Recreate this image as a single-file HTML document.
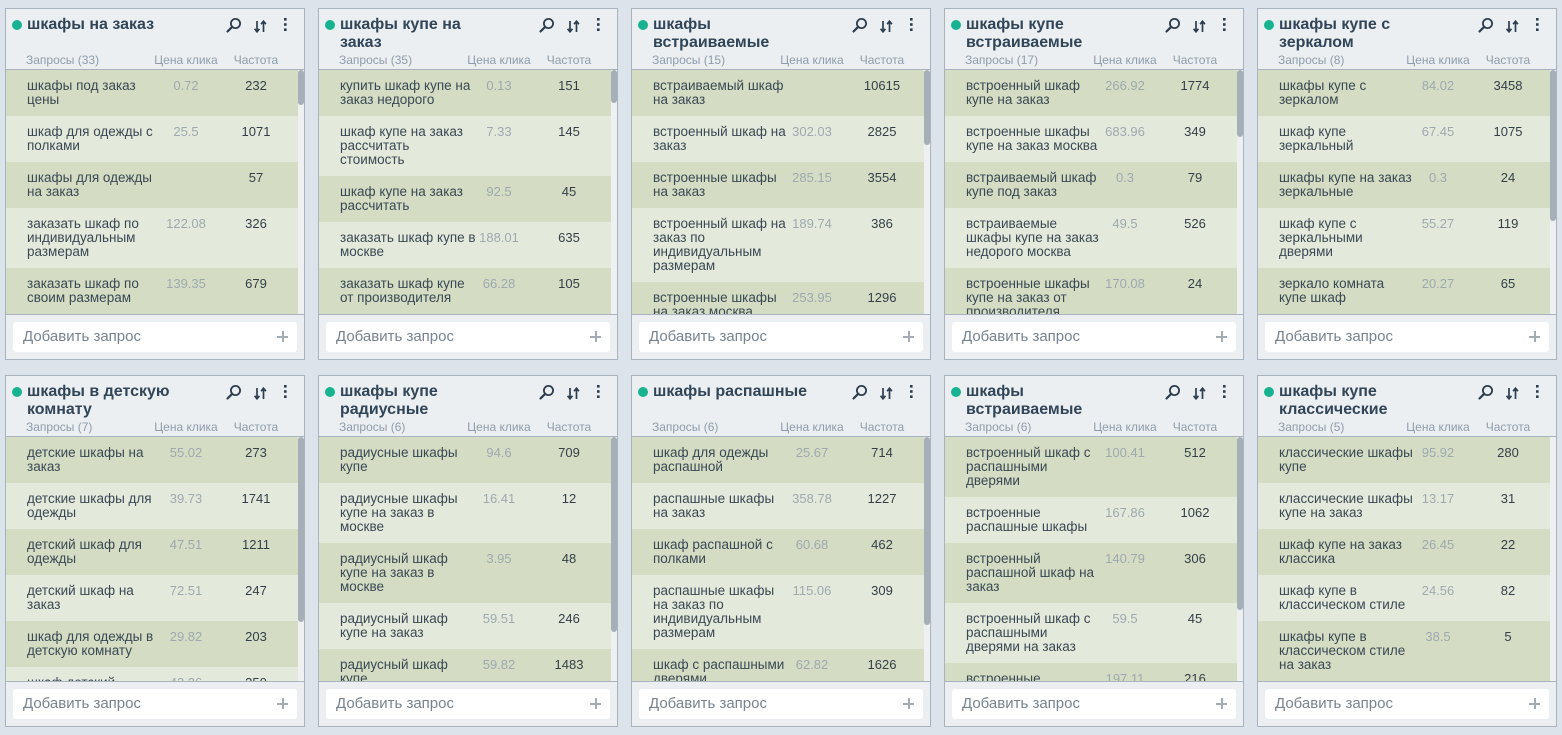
<!DOCTYPE html>
<html>
<head>
<meta charset="utf-8">
<style>
  html,body{margin:0;padding:0;}
  body{width:1562px;height:735px;background:#dde3eb;position:relative;overflow:hidden;
       font-family:"Liberation Sans","Noto Sans CJK SC",sans-serif;}
  .card{position:absolute;width:300px;height:352px;box-sizing:border-box;border:1px solid #a9b3bd;background:#ebeff1;}
  .hd{position:relative;height:60px;border-bottom:1px solid #a9b3bd;}
  .dot{position:absolute;left:6px;top:11px;width:10px;height:10px;border-radius:50%;background:#17b28f;}
  .ttl{position:absolute;left:21px;top:7px;font-size:16px;line-height:18px;font-weight:bold;color:#314558;white-space:nowrap;}
  .ic{position:absolute;left:214px;top:6px;}
  .sub{position:absolute;left:0;top:44px;width:298px;height:14px;font-size:12px;line-height:14px;color:#8f9cab;white-space:nowrap;}
  .sub .c1{position:absolute;left:20px;}
  .sub .c2{position:absolute;left:135px;width:90px;text-align:center;}
  .sub .c3{position:absolute;left:210px;width:80px;text-align:center;}
  .body{position:relative;height:244px;overflow:hidden;}
  .rows{position:absolute;left:0;top:0;width:292px;height:244px;overflow:hidden;}
  .r{position:relative;padding:9px 0;font-size:13px;line-height:14px;background:#d4ddc3;color:#3b4754;}
  .r:nth-child(even){background:#e4eadb;}
  .q{padding-left:21px;white-space:nowrap;font-size:13.5px;}
  .p{position:absolute;left:140px;top:9px;width:80px;text-align:center;color:#9ea8b0;}
  .f{position:absolute;left:210px;top:9px;width:80px;text-align:center;color:#343e49;}
  .sb{position:absolute;right:0;top:0;width:6px;height:244px;background:#eef0f2;}
  .th{position:absolute;left:0;top:0;width:6px;border-radius:3px;background:#a6afb8;}
  .ft{position:relative;height:44px;border-top:1px solid #a9b3bd;}
  .in{position:absolute;left:7px;top:7px;width:284px;height:30px;background:#fff;border-radius:3px;
      font-size:15px;line-height:30px;color:#77838e;box-sizing:border-box;padding-left:10px;}
  .pl{position:absolute;right:9px;top:9px;width:11px;height:11px;}
  .pl:before{content:"";position:absolute;left:0;top:4.5px;width:11px;height:2px;background:#a3acb5;}
  .pl:after{content:"";position:absolute;left:4.5px;top:0;width:2px;height:11px;background:#a3acb5;}
</style>
</head>
<body>

<!-- Card 1 -->
<div class="card" style="left:5px;top:8px">
  <div class="hd">
    <span class="dot"></span>
    <div class="ttl">шкафы на заказ</div>
    <svg class="ic" width="80" height="20" viewBox="0 0 80 20"><circle cx="15.5" cy="8.5" r="4.6" fill="none" stroke="#2c3d4f" stroke-width="1.8"/><line x1="12.2" y1="11.8" x2="7.5" y2="16.5" stroke="#2c3d4f" stroke-width="2.2" stroke-linecap="round"/><g stroke="#2c3d4f" stroke-width="1.7" fill="none"><line x1="37" y1="6" x2="37" y2="16.5"/><polyline points="34.6,13.8 37,16.8 39.4,13.8"/><line x1="43.5" y1="7" x2="43.5" y2="17"/><polyline points="41.1,9.2 43.5,6.2 45.9,9.2"/></g><rect x="64" y="3" width="2.6" height="2.6" fill="#2c3d4f"/><rect x="64" y="8.2" width="2.6" height="2.6" fill="#2c3d4f"/><rect x="64" y="13.4" width="2.6" height="2.6" fill="#2c3d4f"/></svg>
    <div class="sub"><span class="c1">Запросы (33)</span><span class="c2">Цена клика</span><span class="c3">Частота</span></div>
  </div>
  <div class="body">
    <div class="rows">
      <div class="r"><div class="q">шкафы под заказ<br>цены</div><div class="p">0.72</div><div class="f">232</div></div>
      <div class="r"><div class="q">шкаф для одежды с<br>полками</div><div class="p">25.5</div><div class="f">1071</div></div>
      <div class="r"><div class="q">шкафы для одежды<br>на заказ</div><div class="p"></div><div class="f">57</div></div>
      <div class="r"><div class="q">заказать шкаф по<br>индивидуальным<br>размерам</div><div class="p">122.08</div><div class="f">326</div></div>
      <div class="r"><div class="q">заказать шкаф по<br>своим размерам</div><div class="p">139.35</div><div class="f">679</div></div>
    </div>
    <div class="sb"><div class="th" style="height:35px"></div></div>
  </div>
  <div class="ft"><div class="in">Добавить запрос<span class="pl"></span></div></div>
</div>

<!-- Card 2 -->
<div class="card" style="left:318px;top:8px">
  <div class="hd">
    <span class="dot"></span>
    <div class="ttl">шкафы купе на<br>заказ</div>
    <svg class="ic" width="80" height="20" viewBox="0 0 80 20"><circle cx="15.5" cy="8.5" r="4.6" fill="none" stroke="#2c3d4f" stroke-width="1.8"/><line x1="12.2" y1="11.8" x2="7.5" y2="16.5" stroke="#2c3d4f" stroke-width="2.2" stroke-linecap="round"/><g stroke="#2c3d4f" stroke-width="1.7" fill="none"><line x1="37" y1="6" x2="37" y2="16.5"/><polyline points="34.6,13.8 37,16.8 39.4,13.8"/><line x1="43.5" y1="7" x2="43.5" y2="17"/><polyline points="41.1,9.2 43.5,6.2 45.9,9.2"/></g><rect x="64" y="3" width="2.6" height="2.6" fill="#2c3d4f"/><rect x="64" y="8.2" width="2.6" height="2.6" fill="#2c3d4f"/><rect x="64" y="13.4" width="2.6" height="2.6" fill="#2c3d4f"/></svg>
    <div class="sub"><span class="c1">Запросы (35)</span><span class="c2">Цена клика</span><span class="c3">Частота</span></div>
  </div>
  <div class="body">
    <div class="rows">
      <div class="r"><div class="q">купить шкаф купе на<br>заказ недорого</div><div class="p">0.13</div><div class="f">151</div></div>
      <div class="r"><div class="q">шкаф купе на заказ<br>рассчитать<br>стоимость</div><div class="p">7.33</div><div class="f">145</div></div>
      <div class="r"><div class="q">шкаф купе на заказ<br>рассчитать</div><div class="p">92.5</div><div class="f">45</div></div>
      <div class="r"><div class="q">заказать шкаф купе в<br>москве</div><div class="p">188.01</div><div class="f">635</div></div>
      <div class="r"><div class="q">заказать шкаф купе<br>от производителя</div><div class="p">66.28</div><div class="f">105</div></div>
    </div>
    <div class="sb"><div class="th" style="height:33px"></div></div>
  </div>
  <div class="ft"><div class="in">Добавить запрос<span class="pl"></span></div></div>
</div>

<!-- Card 3 -->
<div class="card" style="left:631px;top:8px">
  <div class="hd">
    <span class="dot"></span>
    <div class="ttl">шкафы<br>встраиваемые</div>
    <svg class="ic" width="80" height="20" viewBox="0 0 80 20"><circle cx="15.5" cy="8.5" r="4.6" fill="none" stroke="#2c3d4f" stroke-width="1.8"/><line x1="12.2" y1="11.8" x2="7.5" y2="16.5" stroke="#2c3d4f" stroke-width="2.2" stroke-linecap="round"/><g stroke="#2c3d4f" stroke-width="1.7" fill="none"><line x1="37" y1="6" x2="37" y2="16.5"/><polyline points="34.6,13.8 37,16.8 39.4,13.8"/><line x1="43.5" y1="7" x2="43.5" y2="17"/><polyline points="41.1,9.2 43.5,6.2 45.9,9.2"/></g><rect x="64" y="3" width="2.6" height="2.6" fill="#2c3d4f"/><rect x="64" y="8.2" width="2.6" height="2.6" fill="#2c3d4f"/><rect x="64" y="13.4" width="2.6" height="2.6" fill="#2c3d4f"/></svg>
    <div class="sub"><span class="c1">Запросы (15)</span><span class="c2">Цена клика</span><span class="c3">Частота</span></div>
  </div>
  <div class="body">
    <div class="rows">
      <div class="r"><div class="q">встраиваемый шкаф<br>на заказ</div><div class="p"></div><div class="f">10615</div></div>
      <div class="r"><div class="q">встроенный шкаф на<br>заказ</div><div class="p">302.03</div><div class="f">2825</div></div>
      <div class="r"><div class="q">встроенные шкафы<br>на заказ</div><div class="p">285.15</div><div class="f">3554</div></div>
      <div class="r"><div class="q">встроенный шкаф на<br>заказ по<br>индивидуальным<br>размерам</div><div class="p">189.74</div><div class="f">386</div></div>
      <div class="r"><div class="q">встроенные шкафы<br>на заказ москва</div><div class="p">253.95</div><div class="f">1296</div></div>
    </div>
    <div class="sb"><div class="th" style="height:75px"></div></div>
  </div>
  <div class="ft"><div class="in">Добавить запрос<span class="pl"></span></div></div>
</div>

<!-- Card 4 -->
<div class="card" style="left:944px;top:8px">
  <div class="hd">
    <span class="dot"></span>
    <div class="ttl">шкафы купе<br>встраиваемые</div>
    <svg class="ic" width="80" height="20" viewBox="0 0 80 20"><circle cx="15.5" cy="8.5" r="4.6" fill="none" stroke="#2c3d4f" stroke-width="1.8"/><line x1="12.2" y1="11.8" x2="7.5" y2="16.5" stroke="#2c3d4f" stroke-width="2.2" stroke-linecap="round"/><g stroke="#2c3d4f" stroke-width="1.7" fill="none"><line x1="37" y1="6" x2="37" y2="16.5"/><polyline points="34.6,13.8 37,16.8 39.4,13.8"/><line x1="43.5" y1="7" x2="43.5" y2="17"/><polyline points="41.1,9.2 43.5,6.2 45.9,9.2"/></g><rect x="64" y="3" width="2.6" height="2.6" fill="#2c3d4f"/><rect x="64" y="8.2" width="2.6" height="2.6" fill="#2c3d4f"/><rect x="64" y="13.4" width="2.6" height="2.6" fill="#2c3d4f"/></svg>
    <div class="sub"><span class="c1">Запросы (17)</span><span class="c2">Цена клика</span><span class="c3">Частота</span></div>
  </div>
  <div class="body">
    <div class="rows">
      <div class="r"><div class="q">встроенный шкаф<br>купе на заказ</div><div class="p">266.92</div><div class="f">1774</div></div>
      <div class="r"><div class="q">встроенные шкафы<br>купе на заказ москва</div><div class="p">683.96</div><div class="f">349</div></div>
      <div class="r"><div class="q">встраиваемый шкаф<br>купе под заказ</div><div class="p">0.3</div><div class="f">79</div></div>
      <div class="r"><div class="q">встраиваемые<br>шкафы купе на заказ<br>недорого москва</div><div class="p">49.5</div><div class="f">526</div></div>
      <div class="r"><div class="q">встроенные шкафы<br>купе на заказ от<br>производителя</div><div class="p">170.08</div><div class="f">24</div></div>
    </div>
    <div class="sb"><div class="th" style="height:67px"></div></div>
  </div>
  <div class="ft"><div class="in">Добавить запрос<span class="pl"></span></div></div>
</div>

<!-- Card 5 -->
<div class="card" style="left:1257px;top:8px">
  <div class="hd">
    <span class="dot"></span>
    <div class="ttl">шкафы купе с<br>зеркалом</div>
    <svg class="ic" width="80" height="20" viewBox="0 0 80 20"><circle cx="15.5" cy="8.5" r="4.6" fill="none" stroke="#2c3d4f" stroke-width="1.8"/><line x1="12.2" y1="11.8" x2="7.5" y2="16.5" stroke="#2c3d4f" stroke-width="2.2" stroke-linecap="round"/><g stroke="#2c3d4f" stroke-width="1.7" fill="none"><line x1="37" y1="6" x2="37" y2="16.5"/><polyline points="34.6,13.8 37,16.8 39.4,13.8"/><line x1="43.5" y1="7" x2="43.5" y2="17"/><polyline points="41.1,9.2 43.5,6.2 45.9,9.2"/></g><rect x="64" y="3" width="2.6" height="2.6" fill="#2c3d4f"/><rect x="64" y="8.2" width="2.6" height="2.6" fill="#2c3d4f"/><rect x="64" y="13.4" width="2.6" height="2.6" fill="#2c3d4f"/></svg>
    <div class="sub"><span class="c1">Запросы (8)</span><span class="c2">Цена клика</span><span class="c3">Частота</span></div>
  </div>
  <div class="body">
    <div class="rows">
      <div class="r"><div class="q">шкафы купе с<br>зеркалом</div><div class="p">84.02</div><div class="f">3458</div></div>
      <div class="r"><div class="q">шкаф купе<br>зеркальный</div><div class="p">67.45</div><div class="f">1075</div></div>
      <div class="r"><div class="q">шкафы купе на заказ<br>зеркальные</div><div class="p">0.3</div><div class="f">24</div></div>
      <div class="r"><div class="q">шкаф купе с<br>зеркальными<br>дверями</div><div class="p">55.27</div><div class="f">119</div></div>
      <div class="r"><div class="q">зеркало комната<br>купе шкаф</div><div class="p">20.27</div><div class="f">65</div></div>
    </div>
    <div class="sb"><div class="th" style="height:151px"></div></div>
  </div>
  <div class="ft"><div class="in">Добавить запрос<span class="pl"></span></div></div>
</div>

<!-- Card 6 -->
<div class="card" style="left:5px;top:375px">
  <div class="hd">
    <span class="dot"></span>
    <div class="ttl">шкафы в детскую<br>комнату</div>
    <svg class="ic" width="80" height="20" viewBox="0 0 80 20"><circle cx="15.5" cy="8.5" r="4.6" fill="none" stroke="#2c3d4f" stroke-width="1.8"/><line x1="12.2" y1="11.8" x2="7.5" y2="16.5" stroke="#2c3d4f" stroke-width="2.2" stroke-linecap="round"/><g stroke="#2c3d4f" stroke-width="1.7" fill="none"><line x1="37" y1="6" x2="37" y2="16.5"/><polyline points="34.6,13.8 37,16.8 39.4,13.8"/><line x1="43.5" y1="7" x2="43.5" y2="17"/><polyline points="41.1,9.2 43.5,6.2 45.9,9.2"/></g><rect x="64" y="3" width="2.6" height="2.6" fill="#2c3d4f"/><rect x="64" y="8.2" width="2.6" height="2.6" fill="#2c3d4f"/><rect x="64" y="13.4" width="2.6" height="2.6" fill="#2c3d4f"/></svg>
    <div class="sub"><span class="c1">Запросы (7)</span><span class="c2">Цена клика</span><span class="c3">Частота</span></div>
  </div>
  <div class="body">
    <div class="rows">
      <div class="r"><div class="q">детские шкафы на<br>заказ</div><div class="p">55.02</div><div class="f">273</div></div>
      <div class="r"><div class="q">детские шкафы для<br>одежды</div><div class="p">39.73</div><div class="f">1741</div></div>
      <div class="r"><div class="q">детский шкаф для<br>одежды</div><div class="p">47.51</div><div class="f">1211</div></div>
      <div class="r"><div class="q">детский шкаф на<br>заказ</div><div class="p">72.51</div><div class="f">247</div></div>
      <div class="r"><div class="q">шкаф для одежды в<br>детскую комнату</div><div class="p">29.82</div><div class="f">203</div></div>
      <div class="r"><div class="q">шкаф детский<br>купе</div><div class="p">43.26</div><div class="f">250</div></div>
    </div>
    <div class="sb"><div class="th" style="height:185px"></div></div>
  </div>
  <div class="ft"><div class="in">Добавить запрос<span class="pl"></span></div></div>
</div>

<!-- Card 7 -->
<div class="card" style="left:318px;top:375px">
  <div class="hd">
    <span class="dot"></span>
    <div class="ttl">шкафы купе<br>радиусные</div>
    <svg class="ic" width="80" height="20" viewBox="0 0 80 20"><circle cx="15.5" cy="8.5" r="4.6" fill="none" stroke="#2c3d4f" stroke-width="1.8"/><line x1="12.2" y1="11.8" x2="7.5" y2="16.5" stroke="#2c3d4f" stroke-width="2.2" stroke-linecap="round"/><g stroke="#2c3d4f" stroke-width="1.7" fill="none"><line x1="37" y1="6" x2="37" y2="16.5"/><polyline points="34.6,13.8 37,16.8 39.4,13.8"/><line x1="43.5" y1="7" x2="43.5" y2="17"/><polyline points="41.1,9.2 43.5,6.2 45.9,9.2"/></g><rect x="64" y="3" width="2.6" height="2.6" fill="#2c3d4f"/><rect x="64" y="8.2" width="2.6" height="2.6" fill="#2c3d4f"/><rect x="64" y="13.4" width="2.6" height="2.6" fill="#2c3d4f"/></svg>
    <div class="sub"><span class="c1">Запросы (6)</span><span class="c2">Цена клика</span><span class="c3">Частота</span></div>
  </div>
  <div class="body">
    <div class="rows">
      <div class="r"><div class="q">радиусные шкафы<br>купе</div><div class="p">94.6</div><div class="f">709</div></div>
      <div class="r"><div class="q">радиусные шкафы<br>купе на заказ в<br>москве</div><div class="p">16.41</div><div class="f">12</div></div>
      <div class="r"><div class="q">радиусный шкаф<br>купе на заказ в<br>москве</div><div class="p">3.95</div><div class="f">48</div></div>
      <div class="r"><div class="q">радиусный шкаф<br>купе на заказ</div><div class="p">59.51</div><div class="f">246</div></div>
      <div class="r"><div class="q">радиусный шкаф<br>купе</div><div class="p">59.82</div><div class="f">1483</div></div>
    </div>
    <div class="sb"><div class="th" style="height:195px"></div></div>
  </div>
  <div class="ft"><div class="in">Добавить запрос<span class="pl"></span></div></div>
</div>

<!-- Card 8 -->
<div class="card" style="left:631px;top:375px">
  <div class="hd">
    <span class="dot"></span>
    <div class="ttl">шкафы распашные</div>
    <svg class="ic" width="80" height="20" viewBox="0 0 80 20"><circle cx="15.5" cy="8.5" r="4.6" fill="none" stroke="#2c3d4f" stroke-width="1.8"/><line x1="12.2" y1="11.8" x2="7.5" y2="16.5" stroke="#2c3d4f" stroke-width="2.2" stroke-linecap="round"/><g stroke="#2c3d4f" stroke-width="1.7" fill="none"><line x1="37" y1="6" x2="37" y2="16.5"/><polyline points="34.6,13.8 37,16.8 39.4,13.8"/><line x1="43.5" y1="7" x2="43.5" y2="17"/><polyline points="41.1,9.2 43.5,6.2 45.9,9.2"/></g><rect x="64" y="3" width="2.6" height="2.6" fill="#2c3d4f"/><rect x="64" y="8.2" width="2.6" height="2.6" fill="#2c3d4f"/><rect x="64" y="13.4" width="2.6" height="2.6" fill="#2c3d4f"/></svg>
    <div class="sub"><span class="c1">Запросы (6)</span><span class="c2">Цена клика</span><span class="c3">Частота</span></div>
  </div>
  <div class="body">
    <div class="rows">
      <div class="r"><div class="q">шкаф для одежды<br>распашной</div><div class="p">25.67</div><div class="f">714</div></div>
      <div class="r"><div class="q">распашные шкафы<br>на заказ</div><div class="p">358.78</div><div class="f">1227</div></div>
      <div class="r"><div class="q">шкаф распашной с<br>полками</div><div class="p">60.68</div><div class="f">462</div></div>
      <div class="r"><div class="q">распашные шкафы<br>на заказ по<br>индивидуальным<br>размерам</div><div class="p">115.06</div><div class="f">309</div></div>
      <div class="r"><div class="q">шкаф с распашными<br>дверями</div><div class="p">62.82</div><div class="f">1626</div></div>
    </div>
    <div class="sb"><div class="th" style="height:188px"></div></div>
  </div>
  <div class="ft"><div class="in">Добавить запрос<span class="pl"></span></div></div>
</div>

<!-- Card 9 -->
<div class="card" style="left:944px;top:375px">
  <div class="hd">
    <span class="dot"></span>
    <div class="ttl">шкафы<br>встраиваемые</div>
    <svg class="ic" width="80" height="20" viewBox="0 0 80 20"><circle cx="15.5" cy="8.5" r="4.6" fill="none" stroke="#2c3d4f" stroke-width="1.8"/><line x1="12.2" y1="11.8" x2="7.5" y2="16.5" stroke="#2c3d4f" stroke-width="2.2" stroke-linecap="round"/><g stroke="#2c3d4f" stroke-width="1.7" fill="none"><line x1="37" y1="6" x2="37" y2="16.5"/><polyline points="34.6,13.8 37,16.8 39.4,13.8"/><line x1="43.5" y1="7" x2="43.5" y2="17"/><polyline points="41.1,9.2 43.5,6.2 45.9,9.2"/></g><rect x="64" y="3" width="2.6" height="2.6" fill="#2c3d4f"/><rect x="64" y="8.2" width="2.6" height="2.6" fill="#2c3d4f"/><rect x="64" y="13.4" width="2.6" height="2.6" fill="#2c3d4f"/></svg>
    <div class="sub"><span class="c1">Запросы (6)</span><span class="c2">Цена клика</span><span class="c3">Частота</span></div>
  </div>
  <div class="body">
    <div class="rows">
      <div class="r"><div class="q">встроенный шкаф с<br>распашными<br>дверями</div><div class="p">100.41</div><div class="f">512</div></div>
      <div class="r"><div class="q">встроенные<br>распашные шкафы</div><div class="p">167.86</div><div class="f">1062</div></div>
      <div class="r"><div class="q">встроенный<br>распашной шкаф на<br>заказ</div><div class="p">140.79</div><div class="f">306</div></div>
      <div class="r"><div class="q">встроенный шкаф с<br>распашными<br>дверями на заказ</div><div class="p">59.5</div><div class="f">45</div></div>
      <div class="r"><div class="q">встроенные<br>распашные шкафы</div><div class="p">197.11</div><div class="f">216</div></div>
    </div>
    <div class="sb"><div class="th" style="height:173px"></div></div>
  </div>
  <div class="ft"><div class="in">Добавить запрос<span class="pl"></span></div></div>
</div>

<!-- Card 10 -->
<div class="card" style="left:1257px;top:375px">
  <div class="hd">
    <span class="dot"></span>
    <div class="ttl">шкафы купе<br>классические</div>
    <svg class="ic" width="80" height="20" viewBox="0 0 80 20"><circle cx="15.5" cy="8.5" r="4.6" fill="none" stroke="#2c3d4f" stroke-width="1.8"/><line x1="12.2" y1="11.8" x2="7.5" y2="16.5" stroke="#2c3d4f" stroke-width="2.2" stroke-linecap="round"/><g stroke="#2c3d4f" stroke-width="1.7" fill="none"><line x1="37" y1="6" x2="37" y2="16.5"/><polyline points="34.6,13.8 37,16.8 39.4,13.8"/><line x1="43.5" y1="7" x2="43.5" y2="17"/><polyline points="41.1,9.2 43.5,6.2 45.9,9.2"/></g><rect x="64" y="3" width="2.6" height="2.6" fill="#2c3d4f"/><rect x="64" y="8.2" width="2.6" height="2.6" fill="#2c3d4f"/><rect x="64" y="13.4" width="2.6" height="2.6" fill="#2c3d4f"/></svg>
    <div class="sub"><span class="c1">Запросы (5)</span><span class="c2">Цена клика</span><span class="c3">Частота</span></div>
  </div>
  <div class="body">
    <div class="rows">
      <div class="r"><div class="q">классические шкафы<br>купе</div><div class="p">95.92</div><div class="f">280</div></div>
      <div class="r"><div class="q">классические шкафы<br>купе на заказ</div><div class="p">13.17</div><div class="f">31</div></div>
      <div class="r"><div class="q">шкаф купе на заказ<br>классика</div><div class="p">26.45</div><div class="f">22</div></div>
      <div class="r"><div class="q">шкаф купе в<br>классическом стиле</div><div class="p">24.56</div><div class="f">82</div></div>
      <div class="r"><div class="q">шкафы купе в<br>классическом стиле<br>на заказ</div><div class="p">38.5</div><div class="f">5</div></div>
    </div>
    <div class="sb"></div>
  </div>
  <div class="ft"><div class="in">Добавить запрос<span class="pl"></span></div></div>
</div>

</body>
</html>
